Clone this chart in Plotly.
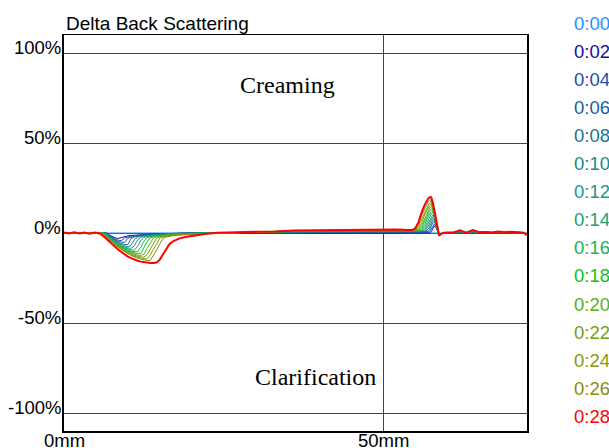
import plotly.graph_objects as go

# ---------------- data ----------------
# height in the tube (mm)
X_MM = [0, 0.8, 1.6, 2.4, 3.2, 4.0, 4.8, 5.6, 6.2, 6.6,
        7, 7.5, 8, 8.5, 9, 9.5, 10, 10.5, 11, 11.5, 12, 12.5, 13, 13.5, 14, 14.5,
        15, 15.5, 16, 16.5, 17, 17.5, 18,
        19, 20, 21, 22,
        24, 27, 30, 33, 36, 40, 44, 48, 52, 54,
        54.5, 55, 55.5, 56, 56.5, 57, 57.25, 57.5, 57.75, 58, 58.25, 58.5, 58.75, 59, 59.5, 60,
        61, 62, 63, 64, 65, 66, 67, 68, 69, 70, 71, 72, 72.5]

# reference scan (delta is zero by definition)
X_REF = [0, 72.5]
Y_0000 = [0.0, 0.0]

Y_0002 = [0, 0.1, -0.1, 0.1, 0, -0.1, 0.1, 0, 0, 0,
          -1.0, -1.9, -2.7, -3.0, -2.5, -1.95, -1.6, -1.4, -1.2, -1.05, -0.95, -0.85, -0.75, -0.65, -0.55, -0.45,
          -0.4, -0.32, -0.27, -0.22, -0.2, -0.15, -0.12,
          -0.05, 0, 0, 0,
          0, -0.1, 0, -0.2, -0.1, -0.2, -0.1, -0.2, -0.1, -0.2,
          -0.1, 0, -0.1, 0, -0.1, 0, 0, 0.7, 2.4, 3.9, 3.1, 1.3, -1.0, -0.5, 0.1, 0,
          0, 0.3, 0, 0.2, 0, 0.1, 0, 0.1, 0, 0.1, 0, 0, -0.5]

Y_0004 = [-0.1, 0.1, 0.1, -0.1, 0.2, -0.1, 0.1, 0, 0, 0,
          -0.9, -2.3, -3.4, -4.0, -4.2, -2.8, -2.1, -1.7, -1.5, -1.3, -1.1, -1.0, -0.9, -0.8, -0.7, -0.6,
          -0.5, -0.4, -0.3, -0.3, -0.2, -0.2, -0.1,
          -0.1, 0, 0, 0,
          0, 0.1, 0.1, 0.2, 0.2, 0.3, 0.3, 0.3, 0.3, 0.3,
          0.3, 0.2, 0.3, 0.2, 0.3, 0.3, 0.8, 2.3, 4.0, 5.1, 3.8, 1.6, -1.1, -0.5, 0.1, 0.1,
          0.1, 0.4, 0.1, 0.4, 0.1, 0.2, 0.1, 0.2, 0.1, 0.2, 0.1, 0, -0.6]

Y_0006 = [0.1, 0.2, -0.1, 0.2, -0.2, 0.1, -0.1, 0.1, 0, 0,
          -1.2, -2.7, -3.8, -4.7, -5.2, -5.3, -2.9, -2.2, -1.8, -1.5, -1.3, -1.1, -1.0, -0.9, -0.8, -0.7,
          -0.6, -0.5, -0.4, -0.35, -0.3, -0.25, -0.2,
          -0.1, 0, 0, 0,
          0, 0.1, 0.2, 0.3, 0.4, 0.5, 0.5, 0.5, 0.5, 0.5,
          0.5, 0.5, 0.5, 0.5, 0.5, 0.8, 2.0, 4.0, 5.7, 6.5, 4.4, 1.8, -1.2, -0.6, 0.1, 0.1,
          0.1, 0.5, 0.1, 0.5, 0.1, 0.2, 0.1, 0.3, 0.1, 0.2, 0.1, 0.1, -0.7]

Y_0008 = [-0.2, 0.1, 0.3, -0.1, 0.3, -0.2, 0.2, -0.1, 0, 0,
          -1.5, -3.0, -4.2, -5.3, -6.0, -6.4, -6.4, -3.1, -2.2, -1.8, -1.5, -1.3, -1.2, -1.0, -0.9, -0.8,
          -0.7, -0.6, -0.5, -0.4, -0.35, -0.3, -0.25,
          -0.15, -0.05, 0, 0,
          0, 0.2, 0.3, 0.4, 0.5, 0.6, 0.7, 0.8, 0.7, 0.7,
          0.7, 0.7, 0.6, 0.7, 0.7, 1.9, 3.8, 5.7, 7.1, 7.5, 4.8, 2.0, -1.2, -0.6, 0.1, 0.1,
          0.2, 0.6, 0.2, 0.6, 0.2, 0.3, 0.1, 0.3, 0.2, 0.3, 0.1, 0.1, -0.7]

Y_0010 = [0.2, -0.1, 0.1, 0.3, -0.2, 0.3, -0.1, 0.1, 0, -0.4,
          -1.7, -3.3, -4.6, -5.7, -6.6, -7.2, -7.5, -6.9, -3.6, -2.4, -1.9, -1.6, -1.3, -1.2, -1.0, -0.9,
          -0.8, -0.7, -0.6, -0.5, -0.4, -0.35, -0.3,
          -0.2, -0.1, 0, 0,
          0, 0.2, 0.35, 0.5, 0.65, 0.8, 0.9, 0.95, 0.9, 0.85,
          0.85, 0.8, 0.9, 0.8, 1.0, 3.6, 5.6, 7.4, 8.6, 7.7, 5.1, 2.2, -1.3, -0.6, 0.1, 0.2,
          0.2, 0.7, 0.1, 0.7, 0.2, 0.3, 0.2, 0.4, 0.2, 0.3, 0.1, 0.1, -0.8]

Y_0012 = [0.1, 0.3, -0.2, 0.2, -0.3, 0.1, -0.2, 0.2, 0, -0.6,
          -2.0, -3.5, -4.9, -6.1, -7.1, -7.8, -8.3, -8.5, -7.2, -4.0, -2.5, -1.9, -1.6, -1.4, -1.2, -1.05,
          -0.9, -0.8, -0.7, -0.6, -0.5, -0.45, -0.4,
          -0.3, -0.2, -0.1, 0,
          0, 0.23, 0.41, 0.58, 0.75, 0.93, 1.04, 1.1, 1.04, 0.99,
          1.0, 1.0, 0.9, 1.0, 1.9, 5.4, 7.3, 9.1, 10.0, 8.5, 5.5, 2.4, -1.3, -0.6, 0.1, 0.2,
          0.2, 0.8, 0.2, 0.8, 0.2, 0.3, 0.2, 0.4, 0.2, 0.4, 0.2, 0.1, -0.8]

Y_0014 = [-0.2, 0.1, 0.3, -0.1, 0.3, -0.2, 0.2, -0.1, 0, -0.9,
          -2.3, -3.8, -5.2, -6.4, -7.5, -8.3, -9.0, -9.4, -9.5, -7.6, -4.3, -2.5, -2.0, -1.6, -1.4, -1.2,
          -1.1, -0.9, -0.8, -0.7, -0.6, -0.55, -0.45,
          -0.3, -0.2, -0.1, 0,
          0, 0.26, 0.46, 0.66, 0.86, 1.06, 1.19, 1.25, 1.19, 1.12,
          1.1, 1.1, 1.2, 1.1, 3.1, 7.2, 9.1, 10.6, 11.4, 9.0, 5.8, 2.5, -1.4, -0.6, 0.1, 0.2,
          0.2, 0.9, 0.2, 0.9, 0.3, 0.4, 0.2, 0.5, 0.2, 0.4, 0.2, 0.1, -0.9]

Y_0016 = [0.2, -0.1, 0.1, 0.3, -0.2, 0.3, -0.1, 0.1, 0, -1.2,
          -2.5, -4.1, -5.4, -6.7, -7.8, -8.8, -9.6, -10.1, -10.45, -10.5, -7.9, -4.7, -2.6, -2.0, -1.65, -1.4,
          -1.2, -1.1, -0.95, -0.85, -0.75, -0.65, -0.55,
          -0.4, -0.3, -0.2, -0.1,
          0, 0.29, 0.51, 0.73, 0.95, 1.17, 1.31, 1.39, 1.31, 1.24,
          1.2, 1.3, 1.2, 1.7, 4.7, 8.9, 10.7, 12.0, 12.5, 9.6, 6.1, 2.6, -1.4, -0.7, 0.1, 0.2,
          0.3, 1.0, 0.2, 1.0, 0.3, 0.4, 0.2, 0.5, 0.3, 0.5, 0.2, 0.1, -0.9]

Y_0018 = [0.1, 0.3, -0.2, 0.2, -0.3, 0.1, -0.2, 0.2, 0, -1.5,
          -2.8, -4.4, -5.8, -7.0, -8.2, -9.2, -10.1, -10.7, -11.2, -11.5, -11.5, -8.3, -5.0, -2.7, -2.05, -1.7,
          -1.4, -1.25, -1.1, -0.95, -0.85, -0.75, -0.65,
          -0.45, -0.35, -0.25, -0.15,
          0, 0.32, 0.55, 0.79, 1.03, 1.26, 1.42, 1.5, 1.42, 1.34,
          1.3, 1.4, 1.3, 2.8, 6.6, 10.7, 12.3, 13.4, 13.0, 9.9, 6.4, 2.8, -1.4, -0.7, 0.2, 0.2,
          0.3, 1.1, 0.2, 1.1, 0.3, 0.5, 0.2, 0.6, 0.3, 0.5, 0.2, 0.1, -1.0]

Y_0020 = [-0.2, 0.1, 0.3, -0.1, 0.3, -0.2, 0.2, -0.1, -0.4, -1.75,
          -3.1, -4.6, -6.0, -7.3, -8.6, -9.6, -10.5, -11.25, -11.9, -12.3, -12.5, -11.85, -8.6, -5.35, -2.8, -2.1,
          -1.7, -1.45, -1.25, -1.1, -0.95, -0.85, -0.75,
          -0.55, -0.4, -0.3, -0.2,
          0, 0.34, 0.59, 0.84, 1.09, 1.34, 1.51, 1.6, 1.51, 1.43,
          1.4, 1.4, 1.8, 4.1, 8.4, 12.4, 13.9, 14.8, 13.4, 10.4, 6.6, 2.9, -1.5, -0.7, 0.2, 0.2,
          0.3, 1.2, 0.2, 1.2, 0.3, 0.5, 0.3, 0.6, 0.3, 0.6, 0.3, 0.2, -1.0]

Y_0022 = [0.2, -0.1, 0.1, 0.3, -0.2, 0.3, -0.1, 0.1, -0.6, -1.95,
          -3.3, -4.8, -6.2, -7.6, -8.8, -9.9, -10.85, -11.7, -12.4, -12.9, -13.3, -13.4, -12.1, -8.85, -5.6, -2.85,
          -2.1, -1.75, -1.45, -1.25, -1.1, -1.0, -0.9,
          -0.7, -0.5, -0.35, -0.25,
          -0.05, 0.36, 0.62, 0.89, 1.16, 1.42, 1.6, 1.69, 1.6, 1.51,
          1.5, 1.5, 2.6, 5.7, 10.2, 13.9, 15.3, 16.2, 14.0, 10.8, 6.9, 2.9, -1.5, -0.7, 0.2, 0.2,
          0.3, 1.3, 0.2, 1.3, 0.3, 0.5, 0.3, 0.7, 0.3, 0.6, 0.3, 0.2, -1.1]

Y_0024 = [0.1, 0.3, -0.2, 0.2, -0.3, 0.1, -0.2, 0.2, -0.86, -2.2,
          -3.5, -5.1, -6.5, -7.8, -9.1, -10.15, -11.15, -12.1, -12.8, -13.45, -13.95, -14.25, -14.3, -12.35, -9.1, -5.85,
          -2.9, -2.15, -1.75, -1.5, -1.3, -1.15, -1.0,
          -0.8, -0.6, -0.4, -0.3,
          -0.1, 0.37, 0.65, 0.93, 1.21, 1.49, 1.67, 1.77, 1.67, 1.58,
          1.6, 1.7, 3.8, 7.6, 12.0, 15.7, 16.9, 17.5, 14.4, 11.0, 7.0, 3.0, -1.5, -0.7, 0.2, 0.3,
          0.3, 1.4, 0.2, 1.4, 0.4, 0.6, 0.3, 0.7, 0.4, 0.7, 0.3, 0.2, -1.1]

Y_0026 = [-0.2, 0.1, 0.3, -0.1, 0.3, -0.2, 0.2, -0.1, -1.15, -2.5,
          -3.8, -5.35, -6.75, -8.1, -9.35, -10.5, -11.55, -12.45, -13.35, -14.0, -14.6, -15.0, -15.25, -15.3, -12.7, -9.45,
          -6.2, -3.0, -2.2, -1.8, -1.5, -1.3, -1.15,
          -0.9, -0.7, -0.5, -0.35,
          -0.1, 0.39, 0.68, 0.97, 1.26, 1.55, 1.75, 1.84, 1.75, 1.65,
          1.7, 2.3, 5.1, 9.5, 13.8, 17.3, 18.4, 18.2, 15.0, 11.3, 7.1, 3.1, -1.5, -0.7, 0.2, 0.3,
          0.3, 1.5, 0.2, 1.5, 0.4, 0.6, 0.3, 0.8, 0.4, 0.7, 0.3, 0.2, -1.2]

Y_0028 = [0.3, -0.2, 0.4, -0.3, 0.2, -0.4, 0.3, -0.3, -1.8, -3.0,
          -4.3, -6.0, -7.7, -9.3, -10.7, -12.0, -13.1, -14.0, -14.8, -15.4, -15.9, -16.3, -16.5, -16.7, -16.7, -16.4,
          -14.8, -12.0, -8.5, -6.2, -4.8, -3.8, -3.1,
          -2.2, -1.6, -1.1, -0.6,
          0.2, 0.3, 0.8, 0.9, 1.4, 1.5, 1.9, 1.8, 1.9, 1.6,
          1.6, 2.6, 5.8, 11.5, 15.8, 19.0, 19.8, 19.8, 17.0, 12.5, 8.0, 3.5, -1.5, -0.6, 0.2, 0.3,
          0.3, 1.5, 0.2, 1.6, 0.4, 0.6, 0.3, 0.8, 0.4, 0.7, 0.3, 0.2, -1.2]

TIME_LABELS = ["0:00", "0:02", "0:04", "0:06", "0:08", "0:10", "0:12", "0:14",
               "0:16", "0:18", "0:20", "0:22", "0:24", "0:26", "0:28"]
SCAN_SERIES = [Y_0002, Y_0004, Y_0006, Y_0008, Y_0010, Y_0012, Y_0014,
               Y_0016, Y_0018, Y_0020, Y_0022, Y_0024, Y_0026, Y_0028]
COLORS = ["#1E90FF", "#1010A0", "#1E4FA8", "#1A5E9C", "#1A7492", "#178A8A",
          "#169A80", "#1CA270", "#1CB05A", "#10C018", "#58B010", "#6EA010",
          "#869A10", "#8C8A14", "#FF0000"]

Y_TICKS = [-100, -50, 0, 50, 100]
Y_TICK_TEXT = ["-100%", "-50%", "0%", "50%", "100%"]
X_TICKS = [0, 50]
X_TICK_TEXT = ["0mm", "50mm"]

SANS = "Liberation Sans, Arial, sans-serif"
SERIF = "Liberation Serif, Times New Roman, serif"

# ---------------- figure ----------------
W, H = 609, 448
ML, MR, MT, MB = 64, 82, 35, 17
PH = H - MT - MB
PW = W - ML - MR

fig = go.Figure()
fig.add_trace(go.Scatter(x=X_REF, y=Y_0000, mode="lines",
                         line=dict(color=COLORS[0], width=1),
                         name=TIME_LABELS[0], hoverinfo="skip"))
for lbl, ys, col in zip(TIME_LABELS[1:], SCAN_SERIES, COLORS[1:]):
    fig.add_trace(go.Scatter(x=X_MM, y=ys, mode="lines",
                             line=dict(color=col, width=2 if lbl == "0:28" else 1),
                             name=lbl))

annotations = []
# legend as coloured text
for i, (lbl, col) in enumerate(zip(TIME_LABELS, COLORS)):
    py = 23.5 + 28.05 * i
    annotations.append(dict(xref="paper", yref="paper",
                            x=(572 - ML) / PW, y=(H - MB - py) / PH,
                            xanchor="left", yanchor="middle", showarrow=False,
                            text=lbl, font=dict(family=SANS, size=18.5, color=col)))
# y tick labels (sit just above their grid line, as in the reference)
for v, t in zip(Y_TICKS, Y_TICK_TEXT):
    annotations.append(dict(xref="paper", yref="y", x=0, y=v,
                            xanchor="right", yanchor="middle", xshift=-1, yshift=6,
                            showarrow=False, text=t,
                            font=dict(family=SANS, size=18.5, color="black")))
# x tick labels (just under the frame)
for v, t in zip(X_TICKS, X_TICK_TEXT):
    annotations.append(dict(xref="x", yref="paper", x=v, y=0,
                            xanchor="center", yanchor="top", yshift=3,
                            showarrow=False, text=t,
                            font=dict(family=SANS, size=18.5, color="black")))
# title
annotations.append(dict(xref="paper", yref="paper", x=0, y=(H - MB - 23.5) / PH,
                        xanchor="left", yanchor="middle", showarrow=False,
                        text="Delta Back Scattering",
                        font=dict(family=SANS, size=19, color="black")))
# zone labels
annotations.append(dict(xref="x", yref="y", x=35.0, y=82, showarrow=False,
                        text="Creaming", font=dict(family=SERIF, size=24, color="black")))
annotations.append(dict(xref="x", yref="y", x=39.4, y=-80, showarrow=False,
                        text="Clarification", font=dict(family=SERIF, size=24, color="black")))

fig.update_layout(
    template="none",
    width=W, height=H,
    margin=dict(l=ML, r=MR, t=MT, b=MB, pad=0),
    paper_bgcolor="white", plot_bgcolor="white",
    showlegend=False,
    font=dict(family=SANS, size=18.5, color="black"),
    annotations=annotations,
)
fig.update_xaxes(range=[0, 72.5], tickmode="array", tickvals=X_TICKS,
                 showticklabels=False,
                 showgrid=True, gridcolor="#444444", gridwidth=1,
                 showline=True, linecolor="black", linewidth=1.5, mirror=True,
                 ticks="", zeroline=False, automargin=False)
fig.update_yaxes(range=[-110, 110], tickmode="array", tickvals=Y_TICKS,
                 showticklabels=False,
                 showgrid=True, gridcolor="#444444", gridwidth=1,
                 showline=True, linecolor="black", linewidth=2, mirror=True,
                 ticks="", zeroline=False, automargin=False)

fig.write_html("out.html",
               config={"displayModeBar": False, "staticPlot": True},
               post_script="document.body.style.margin='0px';document.body.style.overflow='hidden';")
